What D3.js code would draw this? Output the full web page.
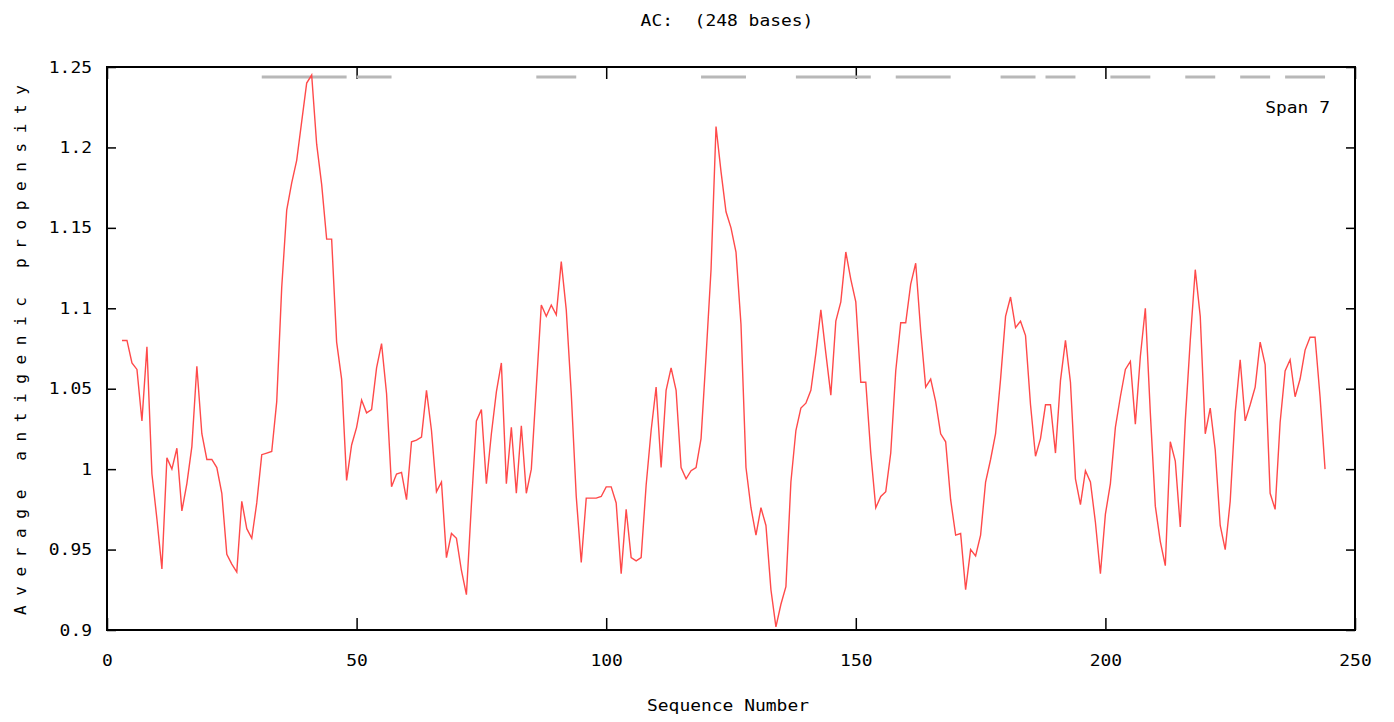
<!DOCTYPE html>
<html>
<head>
<meta charset="utf-8">
<script src="https://cdn.jsdelivr.net/npm/d3@7"></script>
<style>
  body { margin: 0; background: #fff; }
  svg { display: block; }
  text { font-family: 'DejaVu Sans Mono', 'Liberation Mono', monospace; fill: #000; white-space: pre; }
</style>
</head>
<body>
<svg id="chart"></svg>
<script>
// antigenic propensity, span 7, first window centred on residue 3
const firstPos = 3;
const propensity = [
  1.080, 1.080, 1.066, 1.062, 1.030, 1.076, 0.997, 0.969, 0.938, 1.007,
  1.000, 1.013, 0.974, 0.991, 1.014, 1.064, 1.022, 1.006, 1.006, 1.001,
  0.985, 0.947, 0.941, 0.936, 0.980, 0.963, 0.957, 0.979, 1.009, 1.010,
  1.011, 1.042, 1.113, 1.161, 1.178, 1.192, 1.216, 1.240, 1.245, 1.202,
  1.177, 1.143, 1.143, 1.079, 1.056, 0.993, 1.015, 1.026, 1.043, 1.035,
  1.037, 1.063, 1.078, 1.047, 0.989, 0.997, 0.998, 0.981, 1.017, 1.018,
  1.020, 1.049, 1.024, 0.986, 0.992, 0.945, 0.960, 0.957, 0.937, 0.922,
  0.978, 1.030, 1.037, 0.991, 1.022, 1.048, 1.066, 0.991, 1.026, 0.985,
  1.027, 0.985, 1.000, 1.051, 1.102, 1.095, 1.102, 1.096, 1.129, 1.099,
  1.047, 0.983, 0.942, 0.982, 0.982, 0.982, 0.983, 0.989, 0.989, 0.979,
  0.935, 0.975, 0.945, 0.943, 0.945, 0.990, 1.024, 1.051, 1.001, 1.049,
  1.063, 1.049, 1.001, 0.994, 0.999, 1.001, 1.019, 1.070, 1.124, 1.213,
  1.185, 1.160, 1.150, 1.135, 1.090, 1.001, 0.976, 0.959, 0.976, 0.965,
  0.925, 0.902, 0.916, 0.927, 0.992, 1.024, 1.038, 1.041, 1.049, 1.072,
  1.099, 1.072, 1.046, 1.092, 1.104, 1.135, 1.118, 1.104, 1.054, 1.054,
  1.010, 0.976, 0.983, 0.986, 1.010, 1.061, 1.091, 1.091, 1.115, 1.128,
  1.086, 1.051, 1.056, 1.042, 1.022, 1.017, 0.981, 0.959, 0.960, 0.925,
  0.950, 0.946, 0.959, 0.992, 1.006, 1.022, 1.056, 1.095, 1.107, 1.088,
  1.092, 1.083, 1.040, 1.008, 1.019, 1.040, 1.040, 1.010, 1.055, 1.080,
  1.054, 0.994, 0.978, 0.999, 0.992, 0.967, 0.935, 0.972, 0.991, 1.026,
  1.045, 1.062, 1.067, 1.028, 1.070, 1.100, 1.035, 0.977, 0.955, 0.940,
  1.017, 1.005, 0.964, 1.030, 1.080, 1.124, 1.095, 1.022, 1.038, 1.012,
  0.965, 0.950, 0.980, 1.035, 1.068, 1.030, 1.040, 1.051, 1.079, 1.065,
  0.985, 0.975, 1.029, 1.061, 1.068, 1.045, 1.056, 1.074, 1.082, 1.082,
  1.045, 1.000
];

// predicted antigenic regions [start, end]
const regionStart = [31, 50, 86, 119, 138, 158, 179, 188, 201, 216, 227, 236];
const regionEnd = [48, 57, 94, 128, 153, 169, 186, 194, 209, 222, 233, 244];

const xTicks = [0, 50, 100, 150, 200, 250];
const yTicks = [0.9, 0.95, 1, 1.05, 1.1, 1.15, 1.2, 1.25];

const title = 'AC:  (248 bases)';
const xTitle = 'Sequence Number';
const yTitle = 'Average antigenic propensity';
const spanLabel = 'Span 7';

const width = 1394;
const height = 722;
const margin = { top: 67, right: 39, bottom: 92, left: 107 };
const innerW = width - margin.left - margin.right;
const innerH = height - margin.top - margin.bottom;
const charW = 10.8; // the original bitmap font is wide

const data = propensity.map((v, i) => ({ pos: i + firstPos, val: v }));

const xScale = d3.scaleLinear().domain([0, 250]).range([0, innerW]);
const yScale = d3.scaleLinear().domain([0.9, 1.25]).range([innerH, 0]);

const svg = d3
  .select('#chart')
  .attr('width', width)
  .attr('height', height);

const g = svg
  .append('g')
  .attr('transform', `translate(${margin.left}, ${margin.top})`);

const wide = sel =>
  sel
    .attr('font-size', 16)
    .attr('textLength', function() { return this.textContent.length * charW; })
    .attr('lengthAdjust', 'spacingAndGlyphs');

// inward ticks on all four sides
const tickStyle = sel => {
  sel.select('.domain').remove();
  sel.selectAll('line').attr('stroke', '#000').attr('stroke-width', 1.5);
};

g.append('g')
  .attr('transform', `translate(0, ${innerH})`)
  .call(d3.axisBottom(xScale).tickValues(xTicks).tickSize(-12).tickFormat(d3.format('d')).tickPadding(25))
  .call(tickStyle)
  .call(s => s.selectAll('text').call(wide).attr('dy', '0.71em'));

g.append('g')
  .call(d3.axisTop(xScale).tickValues(xTicks).tickSize(-12).tickFormat(''))
  .call(tickStyle);

g.append('g')
  .call(d3.axisLeft(yScale).tickValues(yTicks).tickSize(-9).tickFormat(d => String(+d.toFixed(2))).tickPadding(15))
  .call(tickStyle)
  .call(s => s.selectAll('text').call(wide));

g.append('g')
  .attr('transform', `translate(${innerW}, 0)`)
  .call(d3.axisRight(yScale).tickValues(yTicks).tickSize(-9).tickFormat(''))
  .call(tickStyle);

// frame
g.append('rect')
  .attr('width', innerW)
  .attr('height', innerH)
  .attr('fill', 'none')
  .attr('stroke', '#000')
  .attr('stroke-width', 2);

// antigenic region bars along the top
g.append('g')
  .selectAll('line')
  .data(regionStart)
  .join('line')
  .attr('x1', d => xScale(d))
  .attr('x2', (d, i) => xScale(regionEnd[i]))
  .attr('y1', 10)
  .attr('y2', 10)
  .attr('stroke', '#b8b8b8')
  .attr('stroke-width', 3);

const lineFunc = d3
  .line()
  .x(d => xScale(d.pos))
  .y(d => yScale(d.val));

g.append('path')
  .attr('fill', 'none')
  .attr('stroke', '#ff4a4a')
  .attr('stroke-width', 1.4)
  .attr('d', lineFunc(data));

g.append('text')
  .attr('x', innerW - 25)
  .attr('y', 46)
  .attr('text-anchor', 'end')
  .text(spanLabel)
  .call(wide);

svg.append('text')
  .attr('x', 727)
  .attr('y', 26)
  .attr('text-anchor', 'middle')
  .attr('xml:space', 'preserve')
  .text(title)
  .call(wide);

svg.append('text')
  .attr('x', 728)
  .attr('y', 711)
  .attr('text-anchor', 'middle')
  .text(xTitle)
  .call(wide);

svg.append('text')
  .attr('transform', 'translate(26, 350) rotate(-90)')
  .attr('text-anchor', 'middle')
  .attr('font-size', 16)
  .attr('textLength', 530)
  .attr('lengthAdjust', 'spacing')
  .text(yTitle);
</script>
</body>
</html>
